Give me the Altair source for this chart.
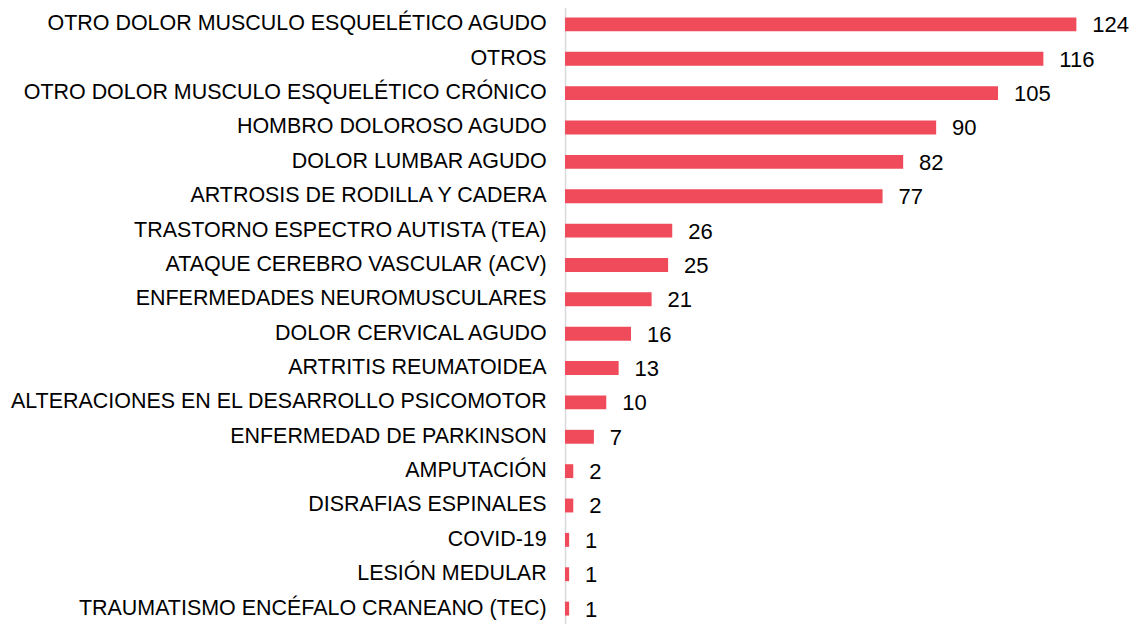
import altair as alt
import pandas as pd

categories = [
    "OTRO DOLOR MUSCULO ESQUELÉTICO AGUDO",
    "OTROS",
    "OTRO DOLOR MUSCULO ESQUELÉTICO CRÓNICO",
    "HOMBRO DOLOROSO AGUDO ",
    "DOLOR LUMBAR AGUDO",
    "ARTROSIS DE RODILLA Y CADERA",
    "TRASTORNO ESPECTRO AUTISTA (TEA)",
    "ATAQUE CEREBRO VASCULAR (ACV)",
    "ENFERMEDADES NEUROMUSCULARES",
    "DOLOR CERVICAL AGUDO",
    "ARTRITIS REUMATOIDEA",
    "ALTERACIONES EN EL DESARROLLO PSICOMOTOR",
    "ENFERMEDAD DE PARKINSON",
    "AMPUTACIÓN ",
    "DISRAFIAS ESPINALES",
    "COVID-19",
    "LESIÓN MEDULAR",
    "TRAUMATISMO ENCÉFALO CRANEANO (TEC)",
]
values = [124, 116, 105, 90, 82, 77, 26, 25, 21, 16, 13, 10, 7, 2, 2, 1, 1, 1]

df = pd.DataFrame({"cat": categories, "val": values})

FONT = "Arial, Liberation Sans, sans-serif"

y = alt.Y(
    "cat:N",
    sort=categories,
    title=None,
    scale=alt.Scale(paddingInner=0, paddingOuter=0),
    axis=alt.Axis(
        ticks=False,
        labelPadding=19,
        labelFont=FONT,
        labelFontSize=21.6,
        labelColor="#000000",
        domainColor="#d9d9d9",
        domainWidth=1.5,
        labelLimit=1000,
    ),
)
x = alt.X(
    "val:Q",
    title=None,
    scale=alt.Scale(domain=[0, 124], nice=False),
    axis=None,
)

bars = alt.Chart(df).mark_bar(color="#EF4B5B", height=14).encode(x=x, y=y)
labels = alt.Chart(df).mark_text(
    align="left", baseline="middle", dx=16, dy=1, font=FONT, fontSize=22.2, color="#000000"
).encode(x=x, y=y, text="val:Q")

chart = (
    alt.layer(bars, labels)
    .properties(
        width=515,
        height=623,
        autosize=alt.AutoSizeParams(type="none"),
        padding={"left": 561, "top": -3, "right": 53, "bottom": -4},
    )
    .configure_view(stroke=None)
)

chart.save("out.html", embed_options={"renderer": "svg", "actions": False})
